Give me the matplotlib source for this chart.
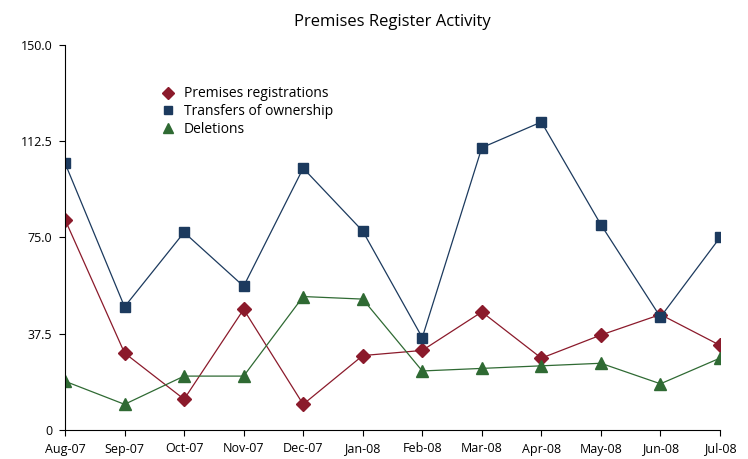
import matplotlib
matplotlib.use("Agg")
import matplotlib.pyplot as plt
from matplotlib.lines import Line2D

plt.rcParams['font.family'] = ['Open Sans', 'DejaVu Sans']

months = ["Aug-07", "Sep-07", "Oct-07", "Nov-07", "Dec-07", "Jan-08",
          "Feb-08", "Mar-08", "Apr-08", "May-08", "Jun-08", "Jul-08"]
registrations = [82, 30, 12, 47, 10, 29, 31, 46, 28, 37, 45, 33]
transfers = [104, 48, 77, 56, 102, 77.5, 36, 110, 120, 80, 44, 75]
deletions = [19, 10, 21, 21, 52, 51, 23, 24, 25, 26, 18, 28]
yticks = [0, 37.5, 75, 112.5, 150]
ytick_labels = ["0", "37.5", "75.0", "112.5", "150.0"]

series = [
    ("Premises registrations", registrations, '#8B1A2B', 'D', 7),
    ("Transfers of ownership", transfers, '#1C3A5E', 's', 7),
    ("Deletions", deletions, '#2F6A33', '^', 8),
]

fig = plt.figure(figsize=(7.48, 4.59), dpi=100)
ax = fig.add_axes([65 / 748, 29 / 459, 655 / 748, 385 / 459])

x = list(range(len(months)))
handles = []
for label, vals, color, marker, ms in series:
    ax.plot(x, vals, color=color, marker=marker, markersize=ms, linewidth=0.9)
    handles.append(Line2D([], [], linestyle='none', marker=marker, color=color,
                          markersize=ms - 1, label=label))

ax.set_xlim(0, len(months) - 1)
ax.set_ylim(0, 150)
ax.set_xticks(x)
ax.set_xticklabels(months, fontsize=9)
ax.set_yticks(yticks)
ax.set_yticklabels(ytick_labels, fontsize=9)
ax.spines['top'].set_visible(False)
ax.spines['right'].set_visible(False)
ax.tick_params(direction='out', length=4, width=0.8, colors='black', pad=5)
ax.set_title("Premises Register Activity", fontsize=12, pad=14)

ax.legend(handles=handles, loc='upper left', bbox_to_anchor=(0.128, 0.925),
          frameon=False, fontsize=10, handlelength=1.0, handletextpad=0.6,
          labelspacing=0.2)

fig.savefig("out.png", dpi=100)
